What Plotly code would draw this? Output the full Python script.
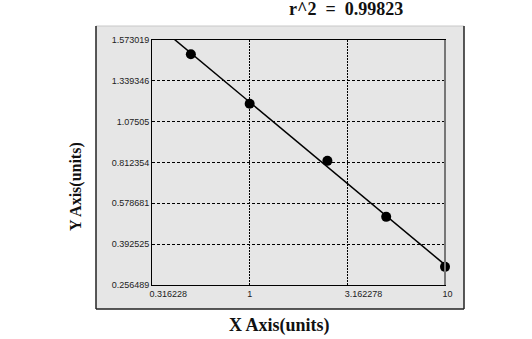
import numpy as np
import plotly.graph_objects as go

# ---- data ----
conc = [0.5, 1, 2.5, 5, 10]
od = [1.491, 1.191, 0.823, 0.517, 0.317]
y_ticks = [0.256489, 0.392525, 0.578681, 0.812354, 1.07505, 1.339346, 1.573019]
y_tick_labels = ["0.256489", "0.392525", "0.578681", "0.812354", "1.07505", "1.339346", "1.573019"]
x_ticks = [0.316228, 1, 3.162278, 10]
x_tick_labels = ["0.316228", "1", "3.162278", "10"]
r2_label = "r^2"
r2_value = "0.99823"

# ---- custom (evenly spaced tick) y scale ----
tick_pos = np.arange(len(y_ticks), dtype=float)


def yscale(v):
    return np.interp(np.asarray(v, dtype=float), y_ticks, tick_pos)


py = yscale(od)
lx = np.log10(conc)
slope, icpt = np.polyfit(lx, py, 1)
fit_x = np.logspace(np.log10(x_ticks[0]), np.log10(x_ticks[-1]), 50)
fit_y = slope * np.log10(fit_x) + icpt

fig = go.Figure()
fig.add_trace(go.Scatter(x=fit_x, y=fit_y, mode="lines",
                         line=dict(color="black", width=1.5), hoverinfo="skip"))
fig.add_trace(go.Scatter(x=conc, y=py, mode="markers", cliponaxis=False,
                         marker=dict(color="black", size=10), customdata=od))

W, H = 532, 339
L, R, T, B = 152, 87, 40, 54
pw, ph = W - L - R, H - T - B


def px2paper_x(px):
    return (px - L) / pw


def px2paper_y(py_):
    return (H - B - py_) / ph


tick_font = dict(family="Liberation Sans, Arial, sans-serif", size=9, color="#222")
title_font = dict(family="Liberation Serif, Times New Roman, serif", color="#111")

gx0, gx1 = px2paper_x(96), px2paper_x(464)
gy0, gy1 = px2paper_y(309), px2paper_y(26)

shapes = [
    dict(type="rect", xref="paper", yref="paper", x0=gx0, x1=gx1, y0=gy0, y1=gy1,
         fillcolor="#e6e6e6", line=dict(width=0), layer="below"),
    dict(type="line", xref="paper", yref="paper", x0=gx0, x1=gx1, y0=gy1, y1=gy1,
         line=dict(color="#c8c8c8", width=1)),
    dict(type="line", xref="paper", yref="paper", x0=gx0, x1=gx0, y0=gy0, y1=gy1,
         line=dict(color="#222", width=1.5)),
    dict(type="line", xref="paper", yref="paper", x0=gx1, x1=gx1, y0=gy0, y1=gy1,
         line=dict(color="#222", width=1.5)),
    dict(type="line", xref="paper", yref="paper", x0=gx0, x1=gx1, y0=gy0, y1=gy0,
         line=dict(color="#222", width=1.5)),
    dict(type="line", xref="paper", yref="paper", x0=1, x1=1, y0=0, y1=1,
         line=dict(color="#777", width=2)),
]

title_text = "<b>" + r2_label + "&nbsp;&nbsp;=&nbsp;&nbsp;" + r2_value + "</b>"

annotations = [
    dict(text=title_text, xref="paper", yref="paper", x=px2paper_x(346), y=px2paper_y(9),
         xanchor="center", yanchor="middle", showarrow=False,
         font=dict(size=18, **title_font)),
    dict(text="<b>Y Axis(units)</b>", xref="paper", yref="paper", x=px2paper_x(76),
         y=px2paper_y(187), xanchor="center", yanchor="middle", showarrow=False,
         textangle=-90, font=dict(size=16, **title_font)),
    dict(text="<b>X Axis(units)</b>", xref="paper", yref="paper", x=px2paper_x(279),
         y=px2paper_y(325), xanchor="center", yanchor="middle", showarrow=False,
         font=dict(size=18, **title_font)),
]

fig.update_layout(
    width=W, height=H, autosize=False,
    margin=dict(l=L, r=R, t=T, b=B, pad=0),
    paper_bgcolor="white", plot_bgcolor="#e6e6e6",
    showlegend=False,
    shapes=shapes, annotations=annotations,
    xaxis=dict(type="log", range=[np.log10(x_ticks[0]), np.log10(x_ticks[-1])],
               tickmode="array", tickvals=x_ticks, ticktext=x_tick_labels,
               ticklabelposition="outside right", ticks="", ticklabelshift=-3,
               showgrid=True, gridcolor="black", gridwidth=1, griddash="2px,1px",
               showline=True, linecolor="black", linewidth=1, mirror=True,
               zeroline=False, tickfont=tick_font, fixedrange=True),
    yaxis=dict(range=[tick_pos[0], tick_pos[-1]], tickmode="array",
               tickvals=tick_pos, ticktext=y_tick_labels, ticks="",
               showgrid=True, gridcolor="black", gridwidth=1, griddash="3px,2px",
               showline=True, linecolor="black", linewidth=1, mirror=True,
               zeroline=False, tickfont=tick_font, fixedrange=True),
)

fig.write_html("out.html")
